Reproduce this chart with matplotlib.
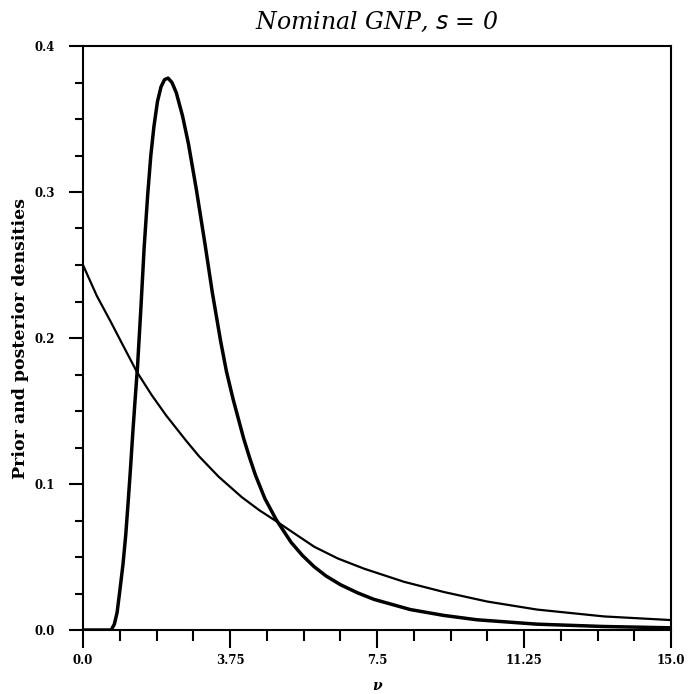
import numpy as np
import matplotlib
matplotlib.use('Agg')
import matplotlib.pyplot as plt
from matplotlib.ticker import MultipleLocator, FixedLocator

# values
post_x = [0.0, 0.72, 0.80, 0.87, 0.94, 1.02, 1.09, 1.15, 1.21, 1.27, 1.33, 1.39,
          1.48, 1.56, 1.65, 1.73, 1.81, 1.90, 1.99, 2.08, 2.17, 2.27, 2.38, 2.54,
          2.69, 2.89, 3.12, 3.30, 3.51, 3.66, 3.83, 4.10, 4.25, 4.40, 4.64, 4.93,
          5.31, 5.60, 5.89, 6.20, 6.57, 7.00, 7.42, 8.35, 9.20, 10.05, 11.58, 13.28, 15.0]
post_y = [0.0, 0.0, 0.004, 0.012, 0.027, 0.045, 0.065, 0.087, 0.110, 0.135, 0.158, 0.180,
          0.222, 0.262, 0.298, 0.325, 0.345, 0.362, 0.372, 0.377, 0.378, 0.375, 0.368, 0.352,
          0.333, 0.302, 0.263, 0.231, 0.198, 0.177, 0.158, 0.131, 0.118, 0.106, 0.090, 0.0755,
          0.060, 0.051, 0.0435, 0.037, 0.031, 0.0255, 0.0210, 0.0140, 0.0100, 0.0070, 0.0040,
          0.0024, 0.0015]

prior_x = [0.0, 0.35, 0.71, 1.00, 1.37, 1.75, 2.12, 2.62, 2.96, 3.46, 4.05, 4.50,
           4.93, 5.40, 5.90, 6.50, 7.17, 8.19, 9.21, 10.31, 11.58, 13.29, 15.0]
prior_y = [0.25, 0.229, 0.211, 0.196, 0.177, 0.161, 0.147, 0.130, 0.119, 0.105, 0.091, 0.082,
           0.0745, 0.066, 0.057, 0.049, 0.042, 0.033, 0.026, 0.0195, 0.0140, 0.0093, 0.0068]

xticks = [0.0, 3.75, 7.5, 11.25, 15.0]
xtick_labels = ['0.0', '3.75', '7.5', '11.25', '15.0']
yticks = [0.0, 0.1, 0.2, 0.3, 0.4]
ytick_labels = ['0.0', '0.1', '0.2', '0.3', '0.4']

fig = plt.figure(figsize=(6.92, 6.94), dpi=100)
ax = fig.add_axes([83 / 692, 1 - 630 / 694, 588 / 692, 584 / 694])

ax.plot(prior_x, prior_y, color='black', lw=1.6, solid_joinstyle='round')
ax.plot(post_x, post_y, color='black', lw=2.5, solid_joinstyle='round')

ax.set_xlim(0, 15)
ax.set_ylim(0, 0.4)

ax.xaxis.set_major_locator(FixedLocator(xticks))
ax.xaxis.set_minor_locator(MultipleLocator(0.9375))
ax.yaxis.set_major_locator(FixedLocator(yticks))
ax.yaxis.set_minor_locator(MultipleLocator(0.025))
ax.set_xticklabels(xtick_labels)
ax.set_yticklabels(ytick_labels)

for lab in ax.get_xticklabels() + ax.get_yticklabels():
    lab.set_fontfamily('DejaVu Serif')
    lab.set_fontweight('bold')
    lab.set_fontsize(8.5)

ax.tick_params(axis='x', which='major', direction='out', length=13, width=1.5, pad=4)
ax.tick_params(axis='x', which='minor', direction='out', length=8, width=1.5)
ax.tick_params(axis='y', which='major', direction='out', length=10, width=1.5, pad=10)
ax.tick_params(axis='y', which='minor', direction='out', length=6, width=1.5)

for sp in ax.spines.values():
    sp.set_linewidth(1.5)

ax.set_title('Nominal GNP, $s$ = 0', family='DejaVu Serif', style='italic',
             fontsize=17, pad=12)
ax.set_xlabel('ν', family='DejaVu Serif', weight='bold', style='italic',
              fontsize=10, labelpad=9)
ax.set_ylabel('Prior and posterior densities', family='DejaVu Serif',
              weight='bold', fontsize=12.5, labelpad=4)

fig.savefig('out.png', dpi=100)
